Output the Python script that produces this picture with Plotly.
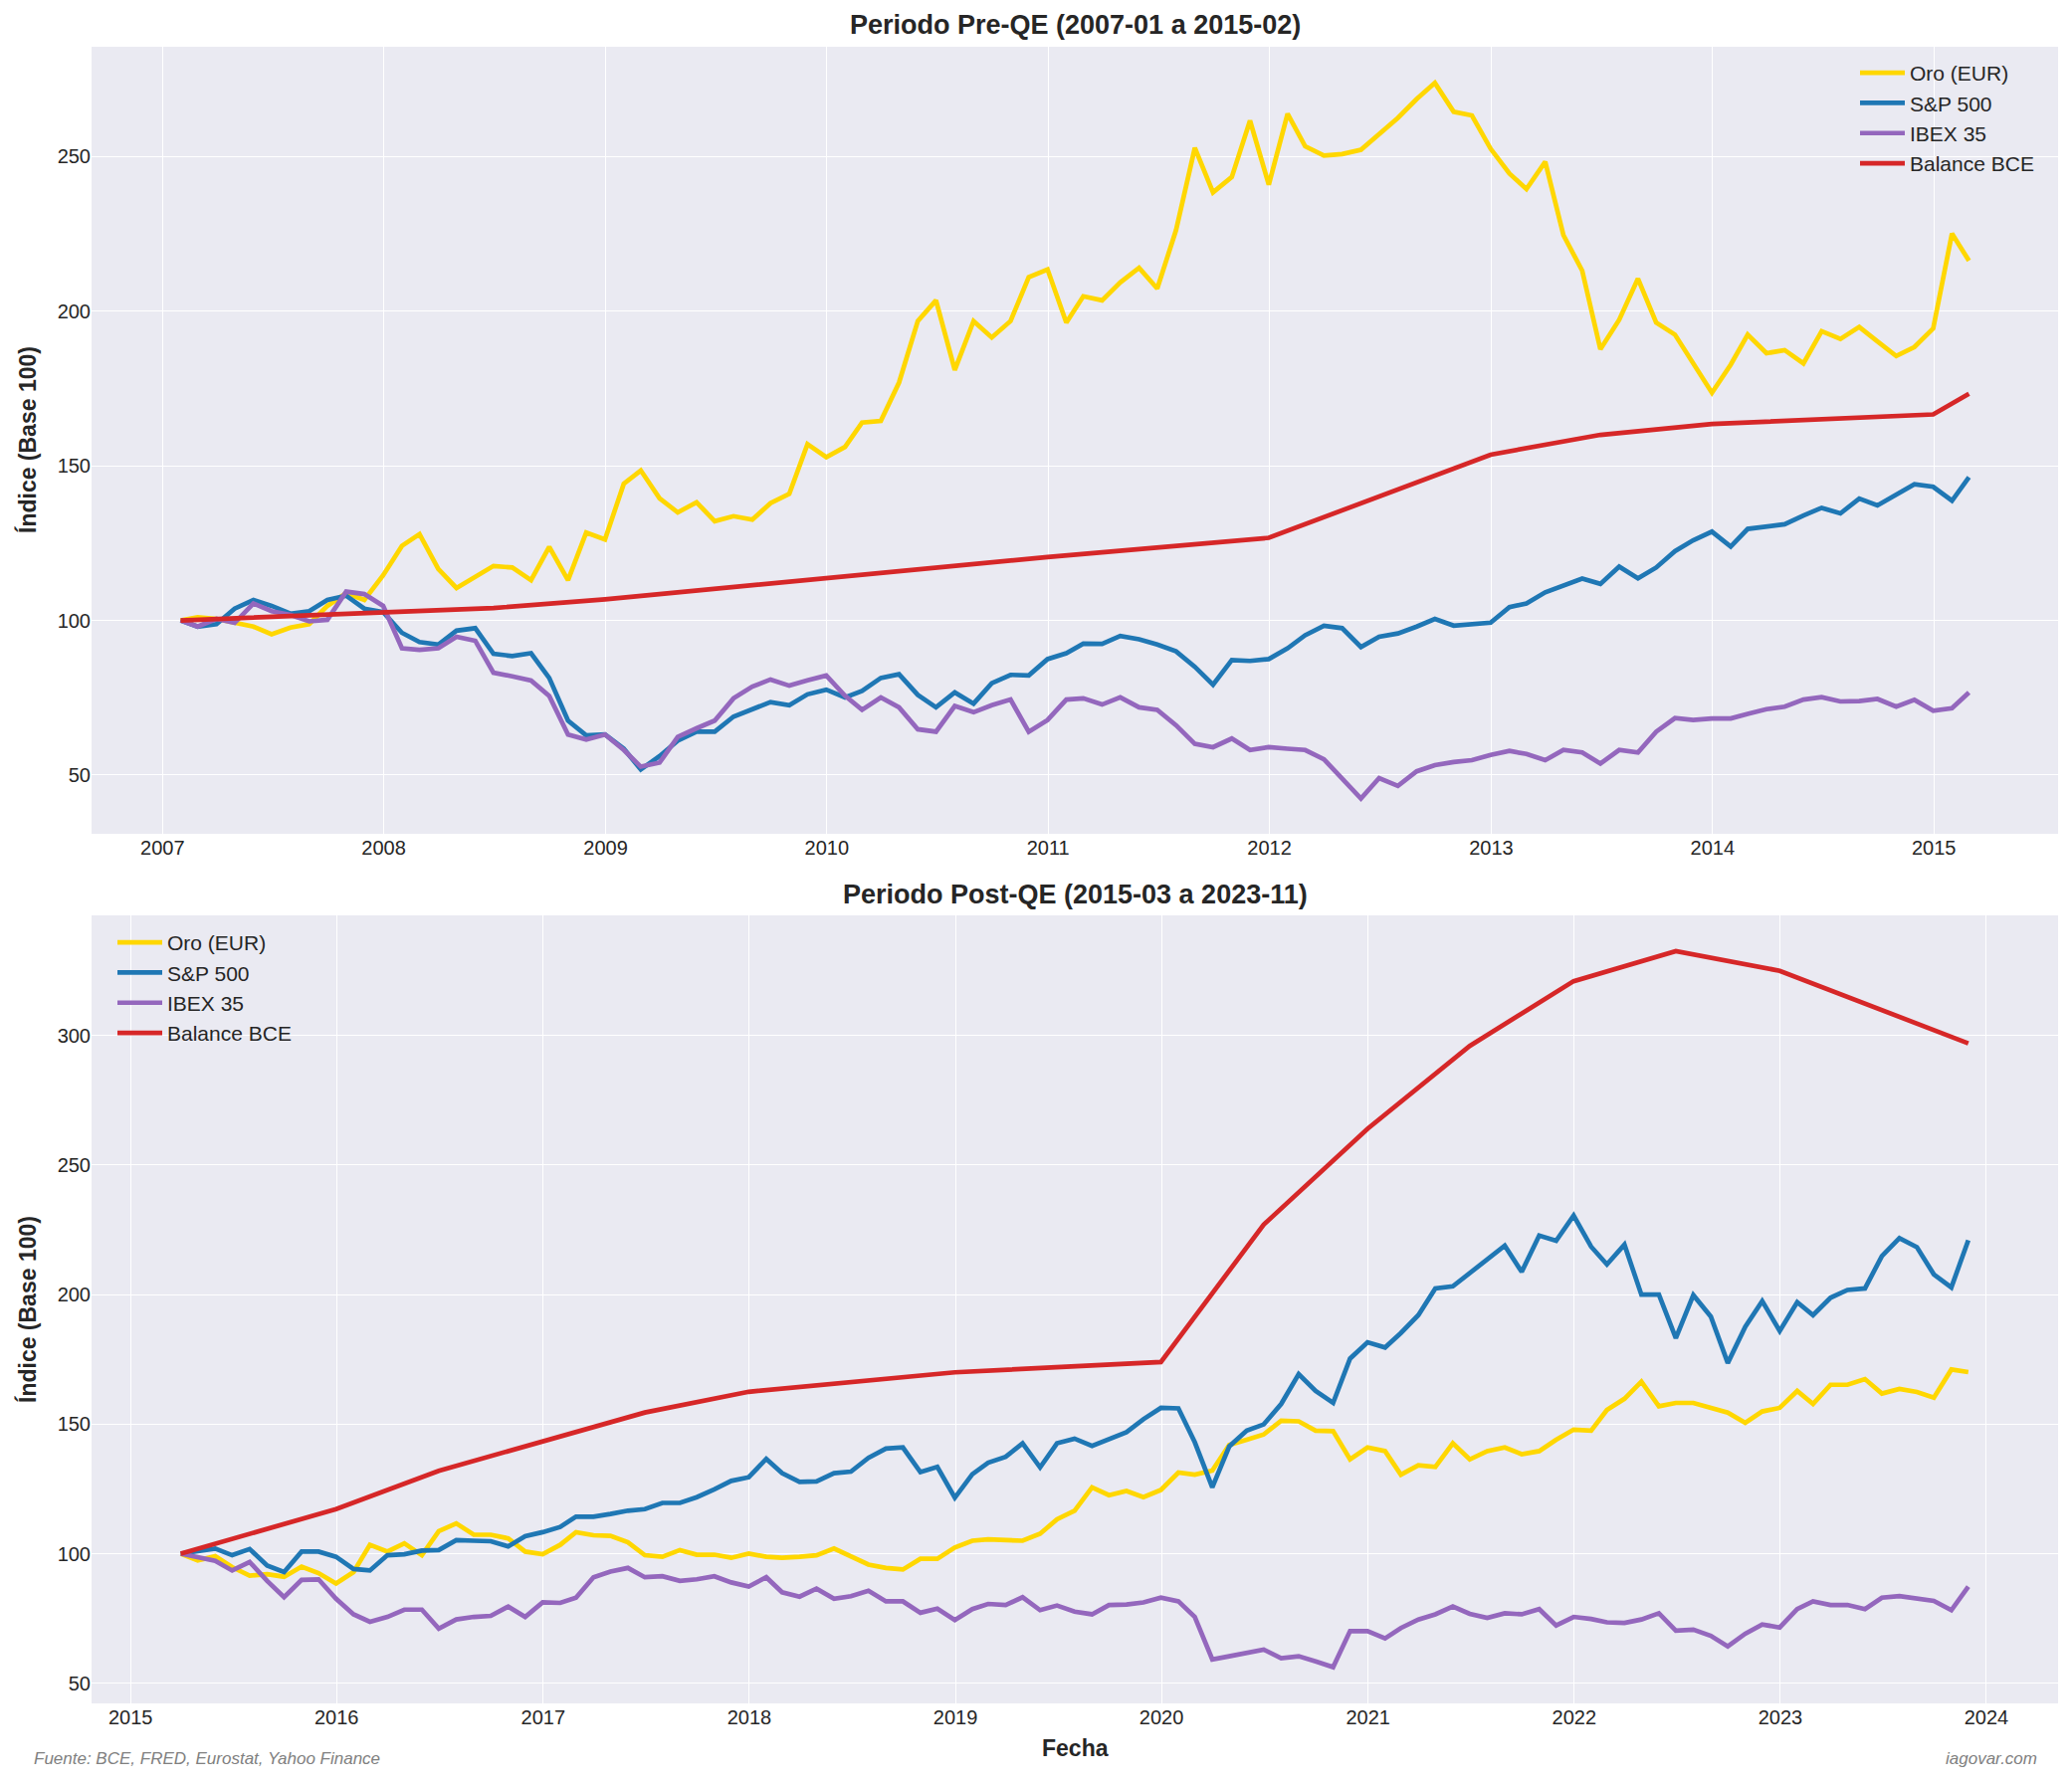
import pandas as pd
import plotly.graph_objects as go

# ---------------- DATA ----------------
pre_start = "2007-01-31"
post_start = "2015-03-31"

pre_oro = [100, 101, 100.5, 99.3, 98, 95.5, 97.7, 98.8, 104.7, 108.8, 106.6, 114.6,
           124.1, 127.9, 116.6, 110.5, 114.1, 117.6, 117.1, 113, 123.8, 113, 128.4, 126.2,
           144.2, 148.5, 139.5, 134.9, 138.2, 132.1, 133.7, 132.6, 137.9, 140.9, 157, 152.8,
           156.1, 164, 164.5, 176.9, 196.8, 203.5, 181, 196.8, 191.5, 196.8, 211, 213.5,
           196.3, 204.8, 203.5, 209.3, 214, 207.3, 226.2, 252.8, 238.4, 243.4, 261.6, 240.9,
           263.8, 253.3, 250.3, 250.8, 252.2, 257.5, 262.5, 268.6, 273.8, 264.5, 263.3, 252.5,
           244.5, 239.5, 248.3, 224.6, 213.1, 187.7, 197.2, 210.5, 196.3, 192.4, 183.2, 173.6,
           182.7, 192.4, 186.4, 187.4, 183.1, 193.5, 191, 194.9, 190.2, 185.5, 188.4, 194.4,
           225.1, 216.3]
pre_sp500 = [100, 98, 98.8, 103.8, 106.6, 104.7, 102.2, 103, 106.6, 108, 103.8, 102.7,
             96, 93, 92.2, 96.7, 97.5, 89.2, 88.5, 89.4, 81.4, 67.6, 62.8, 63.1,
             58.5, 51.8, 56.1, 61.1, 64, 64, 68.9, 71.1, 73.6, 72.6, 76.1, 77.6,
             75.1, 77.2, 81.4, 82.6, 75.9, 71.9, 76.7, 73.1, 79.7, 82.4, 82.2, 87.5,
             89.4, 92.5, 92.4, 95, 93.9, 92.2, 90, 85, 79.2, 87.2, 86.9, 87.5,
             91, 95.2, 98.3, 97.5, 91.4, 94.7, 95.8, 98, 100.5, 98.3, 98.7, 99.3,
             104.3, 105.5, 109.1, 111.3, 113.5, 111.8, 117.4, 113.6, 117.1, 122.4, 125.9, 128.7,
             123.9, 129.6, 130.4, 131.1, 133.9, 136.4, 134.6, 139.4, 137.2, 140.7, 144, 143.2,
             138.7, 146.3]
pre_ibex = [100, 98, 100.5, 99.2, 105.5, 103, 101.8, 99.7, 100.2, 109.3, 108.5, 104.7,
            91, 90.5, 91, 94.7, 93.4, 83.1, 81.9, 80.6, 75.6, 63.1, 61.5, 63.1,
            58.1, 52.7, 54, 62.3, 65.1, 67.6, 74.8, 78.6, 80.9, 78.9, 80.6, 82.2,
            75.6, 71.1, 75.1, 71.9, 64.8, 64, 72.3, 70.3, 72.6, 74.4, 64, 67.8,
            74.4, 74.8, 72.8, 75.1, 71.9, 71.1, 66.1, 60.1, 59, 61.8, 58.1, 59,
            58.5, 58.1, 55.1, 48.7, 42.4, 49, 46.5, 51.2, 53.2, 54.2, 54.8, 56.5,
            57.8, 56.8, 54.8, 58.1, 57.3, 53.7, 58.1, 57.3, 64, 68.4, 67.8, 68.3,
            68.3, 69.8, 71.3, 72.1, 74.4, 75.2, 73.8, 73.9, 74.6, 72.1, 74.3, 70.8,
            71.6, 76.7]
pre_bce_dates = ["2007-01-31", "2007-12-31", "2008-06-30", "2008-12-31", "2009-12-31",
                 "2010-12-31", "2011-12-31", "2012-12-31", "2013-06-30", "2013-12-31",
                 "2014-12-31", "2015-02-28"]
pre_bce = [100, 102.8, 104, 106.8, 113.6, 120.5, 126.7, 153.6, 160, 163.5, 166.6, 173.3]

post_oro = [100, 97.4, 99, 94.8, 91.5, 92.1, 91.1, 95, 92.5, 88.5,
            92.9, 103.4, 100.8, 104, 99.4, 108.7, 111.7, 107.3, 107.3, 105.9, 100.8, 99.8,
            103.4, 108.3, 107.1, 106.9, 104.4, 99.4, 98.8, 101.4, 99.6, 99.6, 98.4, 100,
            98.8, 98.4, 98.8, 99.4, 102, 98.8, 95.8, 94.5, 93.9, 98, 98, 102.4,
            105, 105.5, 105.3, 105, 107.7, 113.3, 116.6, 125.6, 122.6, 124.2, 121.8, 124.6,
            131.3, 130.5, 132.1, 142, 144, 146, 151.3, 151.1, 147.5, 147.3, 136.4, 141,
            139.6, 130.5, 134.1, 133.5, 142.6, 136.4, 139.6, 141, 138.4, 139.6, 144, 147.9,
            147.5, 155.5, 159.8, 166.4, 156.9, 158.2, 158.2, 156.5, 154.5, 150.5, 154.9, 156.3,
            162.8, 157.8, 165.2, 165.2, 167.4, 161.8, 163.6, 162.4, 160.2, 171.1, 170.1]
post_sp500 = [100, 101, 102, 99.4, 101.8, 95.4, 92.9, 100.8, 100.8, 98.8,
              94.1, 93.5, 99.4, 99.8, 101.2, 101.4, 105.2, 105, 104.8, 102.8, 106.7, 108.3,
              110.3, 114.3, 114.3, 115.3, 116.6, 117.2, 119.6, 119.6, 121.8, 124.8, 128.1, 129.5,
              136.6, 131.1, 127.7, 127.9, 131.1, 131.7, 137, 140.6, 141, 131.5, 133.5, 121.6,
              130.7, 135.1, 137.4, 142.6, 133.3, 142.6, 144.4, 141.6, 144, 146.9, 151.9, 156.3,
              156.1, 143, 125.6, 141.4, 147.5, 149.9, 157.8, 169.3, 162.8, 158.2, 175.3, 181.6,
              179.6, 185.2, 192.1, 202.4, 203.2, 208.3, 213.3, 218.9, 208.8, 222.8, 220.8, 230.5,
              218.5, 211.7, 219.3, 200, 200, 183.2, 199.8, 191.5, 173.6, 187.6, 197.5, 186,
              197.1, 192.1, 198.8, 201.8, 202.4, 214.9, 221.8, 218.3, 207.8, 202.8, 221]
post_ibex = [100, 98.4, 97.2, 93.5, 96.8, 89.5, 83.2, 89.9, 90.1, 82.6,
             76.6, 73.7, 75.6, 78.4, 78.4, 71.1, 74.6, 75.6, 76, 79.6, 75.6, 81.2,
             81, 83, 90.9, 93.1, 94.5, 90.9, 91.3, 89.5, 90.1, 91.3, 88.9, 87.3,
             90.9, 85.1, 83.4, 86.5, 82.6, 83.6, 85.7, 81.6, 81.6, 77.2, 78.8, 74.4,
             78.6, 80.6, 80.2, 83.2, 78.2, 80, 77.6, 76.6, 80.2, 80.4, 81.2, 83,
             81.6, 75.6, 59.2, 60.4, 61.8, 63, 59.6, 60.4, 58.4, 56.2, 70.1, 70.1,
             67.3, 71.3, 74.6, 76.6, 79.6, 76.8, 75.2, 77, 76.6, 78.6, 72.3, 75.6,
             74.8, 73.5, 73.3, 74.6, 77, 70.3, 70.7, 68.3, 64.2, 69.1, 72.7, 71.5,
             78.6, 81.6, 80.2, 80.2, 78.6, 83, 83.6, 82.6, 81.8, 78.2, 87.3]
post_bce_dates = ["2015-03-31", "2015-12-31", "2016-06-30", "2016-12-31", "2017-06-30",
                  "2017-12-31", "2018-12-31", "2019-12-31", "2020-06-30", "2020-12-31",
                  "2021-06-30", "2021-12-31", "2022-06-30", "2022-12-31", "2023-11-30"]
post_bce = [100, 117.2, 132, 143.5, 154.5, 162.5, 170, 174, 227, 264, 296, 321, 332.6, 325, 297]

series_names = ["Oro (EUR)", "S&P 500", "IBEX 35", "Balance BCE"]
series_colors = ["#FFD700", "#1f77b4", "#9467bd", "#d62728"]

pre_dates = pd.date_range(pre_start, periods=len(pre_oro), freq=pd.offsets.MonthEnd())
post_dates = pd.date_range(post_start, periods=len(post_oro), freq=pd.offsets.MonthEnd())

# ---------------- FIGURE ----------------
W, H = 2082, 1793
TXT = "#262626"
FONT = "Liberation Sans"
LW = 4.7

fig = go.Figure()

panels = [
    ("x", "y", "legend", pre_dates, [pre_oro, pre_sp500, pre_ibex], pre_bce_dates, pre_bce),
    ("x2", "y2", "legend2", post_dates, [post_oro, post_sp500, post_ibex], post_bce_dates, post_bce),
]
for xa, ya, lg, dts, vals, bdates, bvals in panels:
    for name, color, v in zip(series_names[:3], series_colors[:3], vals):
        fig.add_trace(go.Scatter(x=dts, y=v, mode="lines", name=name, xaxis=xa, yaxis=ya,
                                 legend=lg, line=dict(color=color, width=LW)))
    fig.add_trace(go.Scatter(x=pd.to_datetime(bdates), y=bvals, mode="lines", name=series_names[3],
                             xaxis=xa, yaxis=ya, legend=lg,
                             line=dict(color=series_colors[3], width=LW)))

def px_x(p):
    return p / W

def px_y(p):
    return 1 - p / H

axis_common = dict(showgrid=True, gridcolor="white", gridwidth=1.3, zeroline=False,
                   showline=False, ticks="", tickfont=dict(family=FONT, size=20, color=TXT))

fig.update_layout(
    width=W, height=H, margin=dict(l=0, r=0, t=0, b=0),
    paper_bgcolor="white", plot_bgcolor="#EAEAF2",
    font=dict(family=FONT, color=TXT),
    xaxis=dict(domain=[px_x(92), px_x(2068)], anchor="y", type="date",
               range=["2006-09-06", "2015-07-25"], dtick="M12", tick0="2007-01-01",
               tickformat="%Y", **axis_common),
    yaxis=dict(domain=[px_y(838), px_y(47)], anchor="x", range=[31, 285.5],
               tickvals=[50, 100, 150, 200, 250], **axis_common),
    xaxis2=dict(domain=[px_x(92), px_x(2068)], anchor="y2", type="date",
                range=["2014-10-24", "2024-05-07"], dtick="M12", tick0="2015-01-01",
                tickformat="%Y", **axis_common),
    yaxis2=dict(domain=[px_y(1712), px_y(920)], anchor="x2", range=[42.2, 346.4],
                tickvals=[50, 100, 150, 200, 250, 300], **axis_common),
    legend=dict(x=px_x(1864), y=px_y(53), xanchor="left", yanchor="top",
                bgcolor="rgba(0,0,0,0)", font=dict(family=FONT, size=21, color=TXT),
                itemwidth=45, tracegroupgap=0),
    legend2=dict(x=px_x(113), y=px_y(927), xanchor="left", yanchor="top",
                 bgcolor="rgba(0,0,0,0)", font=dict(family=FONT, size=21, color=TXT),
                 itemwidth=45, tracegroupgap=0),
    showlegend=True,
)

annos = [
    dict(text="<b>Periodo Pre-QE (2007-01 a 2015-02)</b>", x=px_x(1080), y=px_y(25),
         xanchor="center", yanchor="middle", font=dict(size=27)),
    dict(text="<b>Periodo Post-QE (2015-03 a 2023-11)</b>", x=px_x(1080), y=px_y(899),
         xanchor="center", yanchor="middle", font=dict(size=27)),
    dict(text="<b>Índice (Base 100)</b>", x=px_x(27), y=px_y(442), textangle=-90,
         xanchor="center", yanchor="middle", font=dict(size=23)),
    dict(text="<b>Índice (Base 100)</b>", x=px_x(27), y=px_y(1316), textangle=-90,
         xanchor="center", yanchor="middle", font=dict(size=23)),
    dict(text="<b>Fecha</b>", x=px_x(1080), y=px_y(1757), xanchor="center", yanchor="middle",
         font=dict(size=23)),
    dict(text="<i>Fuente: BCE, FRED, Eurostat, Yahoo Finance</i>", x=px_x(32), y=px_y(1767),
         xanchor="left", yanchor="middle", font=dict(size=17, color="#808080")),
    dict(text="<i>iagovar.com</i>", x=px_x(2049), y=px_y(1767),
         xanchor="right", yanchor="middle", font=dict(size=17, color="#808080")),
]
for a in annos:
    a.update(xref="paper", yref="paper", showarrow=False)
    a["font"] = dict(family=FONT, color=a["font"].get("color", TXT), size=a["font"]["size"])
    fig.add_annotation(**a)

fig.write_html("out.html")
